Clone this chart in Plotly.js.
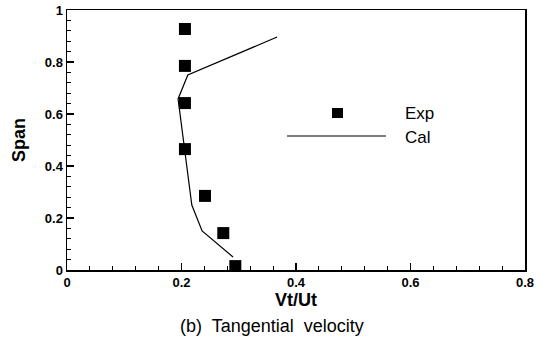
<!DOCTYPE html>
<html>
<head>
<meta charset="utf-8">
<script src="https://cdn.plot.ly/plotly-3.0.1.min.js"></script>
<style>html,body{margin:0;padding:0;background:#fff;}#chart{width:547px;height:339px;}</style>
</head>
<body>
<div id="chart"></div>
<script>
// Experimental data (Exp)
const expVt = [0.206, 0.206, 0.206, 0.206, 0.241, 0.273, 0.294];
const expSpan = [0.927, 0.785, 0.642, 0.465, 0.285, 0.142, 0.015];
// Calculation (Cal)
const calVt = [0.367, 0.211, 0.194, 0.206, 0.218, 0.236, 0.290];
const calSpan = [0.896, 0.750, 0.658, 0.450, 0.250, 0.150, 0.050];

const xTicks = [0, 0.2, 0.4, 0.6, 0.8];
const yTicks = [0, 0.2, 0.4, 0.6, 0.8, 1];

const font = 'Liberation Sans, Arial, sans-serif';

const traces = [
  {x: calVt, y: calSpan, mode: 'lines', name: 'Cal',
   line: {color: '#000', width: 1.2}, showlegend: false},
  {x: expVt, y: expSpan, mode: 'markers', name: 'Exp',
   marker: {symbol: 'square', size: 12, color: '#000'}, showlegend: false}
];

const axisCommon = {
  showgrid: false, zeroline: false, showline: true, mirror: true,
  linecolor: '#000', linewidth: 1.5, ticks: 'inside', ticklen: 7, tickwidth: 1.2,
  tickcolor: '#000', tickfont: {family: font, size: 13, color: '#000', weight: 'bold'},
  minor: {ticks: 'inside', ticklen: 4, dtick: 0.04, tickcolor: '#000', tickwidth: 1}
};

const layout = {
  width: 547, height: 339,
  margin: {l: 67, r: 22, t: 10, b: 69},
  paper_bgcolor: '#fff', plot_bgcolor: '#fff',
  xaxis: Object.assign({}, axisCommon, {
    range: [0, 0.8], tickvals: xTicks, ticktext: xTicks.map(String),
    title: {text: 'Vt/Ut', font: {family: font, size: 18, color: '#000', weight: 'bold'}, standoff: 2}
  }),
  yaxis: Object.assign({}, axisCommon, {
    range: [0, 1], tickvals: yTicks, ticktext: yTicks.map(String),
    title: {text: 'Span', font: {family: font, size: 18, color: '#000', weight: 'bold'}, standoff: 14}
  }),
  shapes: [
    {type: 'rect', xref: 'paper', yref: 'paper',
     x0: (332 - 67) / 458, x1: (343 - 67) / 458,
     y0: (270 - 118) / 260, y1: (270 - 108) / 260,
     fillcolor: '#000', line: {width: 0}},
    {type: 'line', xref: 'paper', yref: 'paper',
     x0: (287 - 67) / 458, x1: (386 - 67) / 458,
     y0: (270 - 136) / 260, y1: (270 - 136) / 260,
     line: {color: '#000', width: 1.2}}
  ],
  annotations: [
    {text: 'Exp', xref: 'paper', yref: 'paper', x: (403 - 67) / 458, y: (270 - 113) / 260,
     xanchor: 'left', yanchor: 'middle', showarrow: false,
     font: {family: font, size: 17, color: '#000'}},
    {text: 'Cal', xref: 'paper', yref: 'paper', x: (403 - 67) / 458, y: (270 - 137) / 260,
     xanchor: 'left', yanchor: 'middle', showarrow: false,
     font: {family: font, size: 17, color: '#000'}},
    {text: '(b)  Tangential  velocity', xref: 'paper', yref: 'paper', x: (272 - 67) / 458, y: (270 - 326) / 260,
     xanchor: 'center', yanchor: 'middle', showarrow: false,
     font: {family: font, size: 18, color: '#000'}}
  ]
};

Plotly.newPlot('chart', traces, layout, {displayModeBar: false, staticPlot: true});
</script>
</body>
</html>
